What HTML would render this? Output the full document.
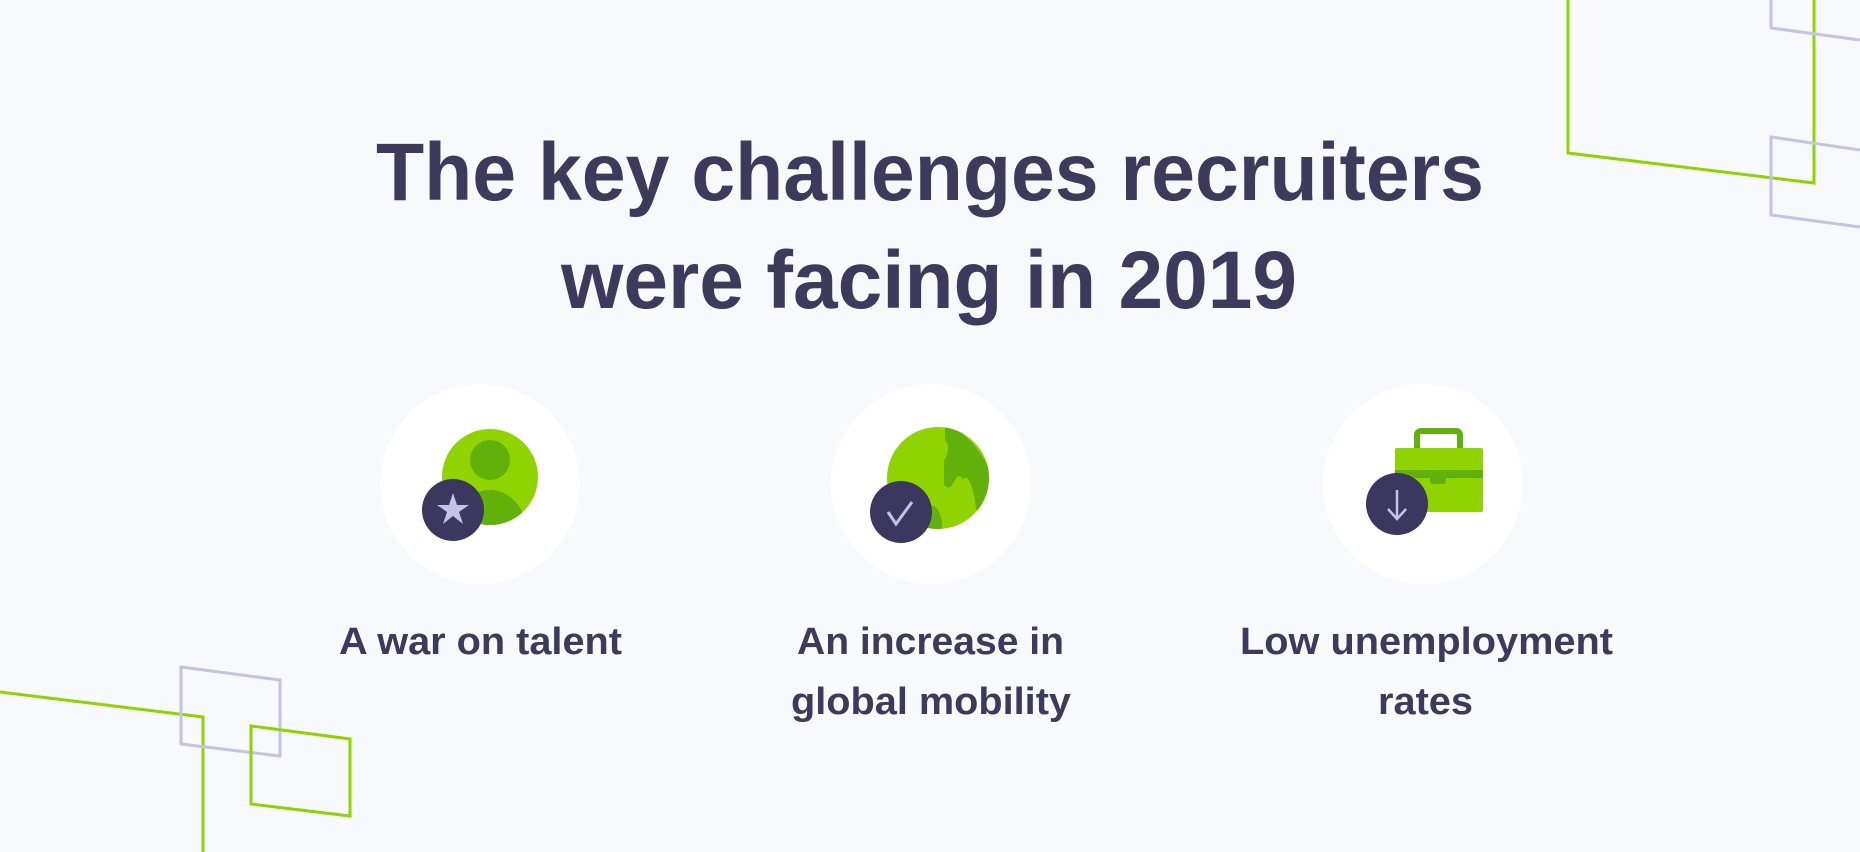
<!DOCTYPE html>
<html><head><meta charset="utf-8"><style>
html,body{margin:0;padding:0;background:#f8f9fd;}
svg{display:block}
text{font-family:"Liberation Sans",sans-serif;font-weight:bold;fill:#3d3a5c}
</style></head><body>
<svg width="1860" height="852" viewBox="0 0 1860 852">
<rect width="1860" height="852" fill="#f8f9fd"/>
<polyline points="1568,0 1568,153 1814,183 1814,0" fill="none" stroke="#8fd400" stroke-width="3"/>
<polyline points="1771,0 1771,28 1860,40" fill="none" stroke="#c5c2e6" stroke-width="3"/>
<polyline points="1860,150 1771,137 1771,215 1860,227" fill="none" stroke="#c5c2e6" stroke-width="3"/>
<polyline points="0,692 203,717 203,852" fill="none" stroke="#8fd400" stroke-width="3"/>
<polygon points="181,667 280,680 280,756 181,744" fill="none" stroke="#c5c2e6" stroke-width="3"/>
<polygon points="251,726 350,739 350,816 251,804" fill="none" stroke="#8fd400" stroke-width="3"/>
<text x="376" y="200" font-size="82" textLength="1108" lengthAdjust="spacingAndGlyphs">The key challenges recruiters</text>
<text x="561" y="308" font-size="82" textLength="736" lengthAdjust="spacingAndGlyphs">were facing in 2019</text>
<circle cx="480" cy="484" r="100" fill="#fff"/>
<circle cx="931" cy="484" r="100" fill="#fff"/>
<circle cx="1423" cy="484" r="100" fill="#fff"/>
<defs><clipPath id="c1"><circle cx="490" cy="477" r="48"/></clipPath>
<clipPath id="c2"><circle cx="938" cy="478" r="51"/></clipPath>
<clipPath id="c3"><rect x="1395" y="448" width="88" height="64"/></clipPath></defs>
<circle cx="490" cy="477" r="48" fill="#8fd400"/>
<g clip-path="url(#c1)">
<ellipse cx="490" cy="460" rx="20" ry="20" fill="#62b00a"/>
<ellipse cx="490" cy="530" rx="36" ry="40" fill="#62b00a"/>
</g>
<circle cx="453" cy="510" r="31" fill="#3b375e"/>
<polygon points="453,493 457,505 469,505 459,512 463,524 453,516 443,524 447,512 437,505 449,505" fill="#c5c2e6"/>
<circle cx="938" cy="478" r="51" fill="#8fd400"/>
<g clip-path="url(#c2)">
<path d="M945,427 C955,425 975,440 990,470 L990,520 C980,520 975,510 975,500 C972,485 968,475 965,478 C962,482 960,470 955,480 C950,490 948,488 944,485 L944,460 C948,455 950,445 945,440 Z" fill="#62b00a"/>
<ellipse cx="930" cy="525" rx="12" ry="20" fill="#62b00a"/>
</g>
<circle cx="901" cy="512" r="31" fill="#3b375e"/>
<polyline points="888,512 896,524 912,502" fill="none" stroke="#c5c2e6" stroke-width="3"/>
<rect x="1417" y="431" width="43" height="20" rx="4" fill="none" stroke="#62b00a" stroke-width="6"/>
<rect x="1395" y="448" width="88" height="64" rx="2" fill="#8fd400"/>
<rect x="1395" y="470" width="88" height="8" fill="#62b00a"/>
<rect x="1430" y="474" width="16" height="10" rx="3" fill="#62b00a"/>
<g clip-path="url(#c3)"><ellipse cx="1405" cy="512" rx="18" ry="28" fill="#62b00a"/></g>
<circle cx="1397" cy="504" r="31" fill="#3b375e"/>
<line x1="1397" y1="490" x2="1397" y2="518" stroke="#c5c2e6" stroke-width="2.5"/>
<polyline points="1388,509 1397,519 1406,509" fill="none" stroke="#c5c2e6" stroke-width="2.5"/>
<text x="339" y="654" font-size="38" textLength="283" lengthAdjust="spacingAndGlyphs" fill="#2f2c4a">A war on talent</text>
<text x="797" y="654" font-size="38" textLength="267" lengthAdjust="spacingAndGlyphs" fill="#2f2c4a">An increase in</text>
<text x="791" y="714" font-size="38" textLength="280" lengthAdjust="spacingAndGlyphs" fill="#2f2c4a">global mobility</text>
<text x="1240" y="654" font-size="38" textLength="373" lengthAdjust="spacingAndGlyphs" fill="#2f2c4a">Low unemployment</text>
<text x="1378" y="714" font-size="38" textLength="95" lengthAdjust="spacingAndGlyphs" fill="#2f2c4a">rates</text>
</svg>
</body></html>
